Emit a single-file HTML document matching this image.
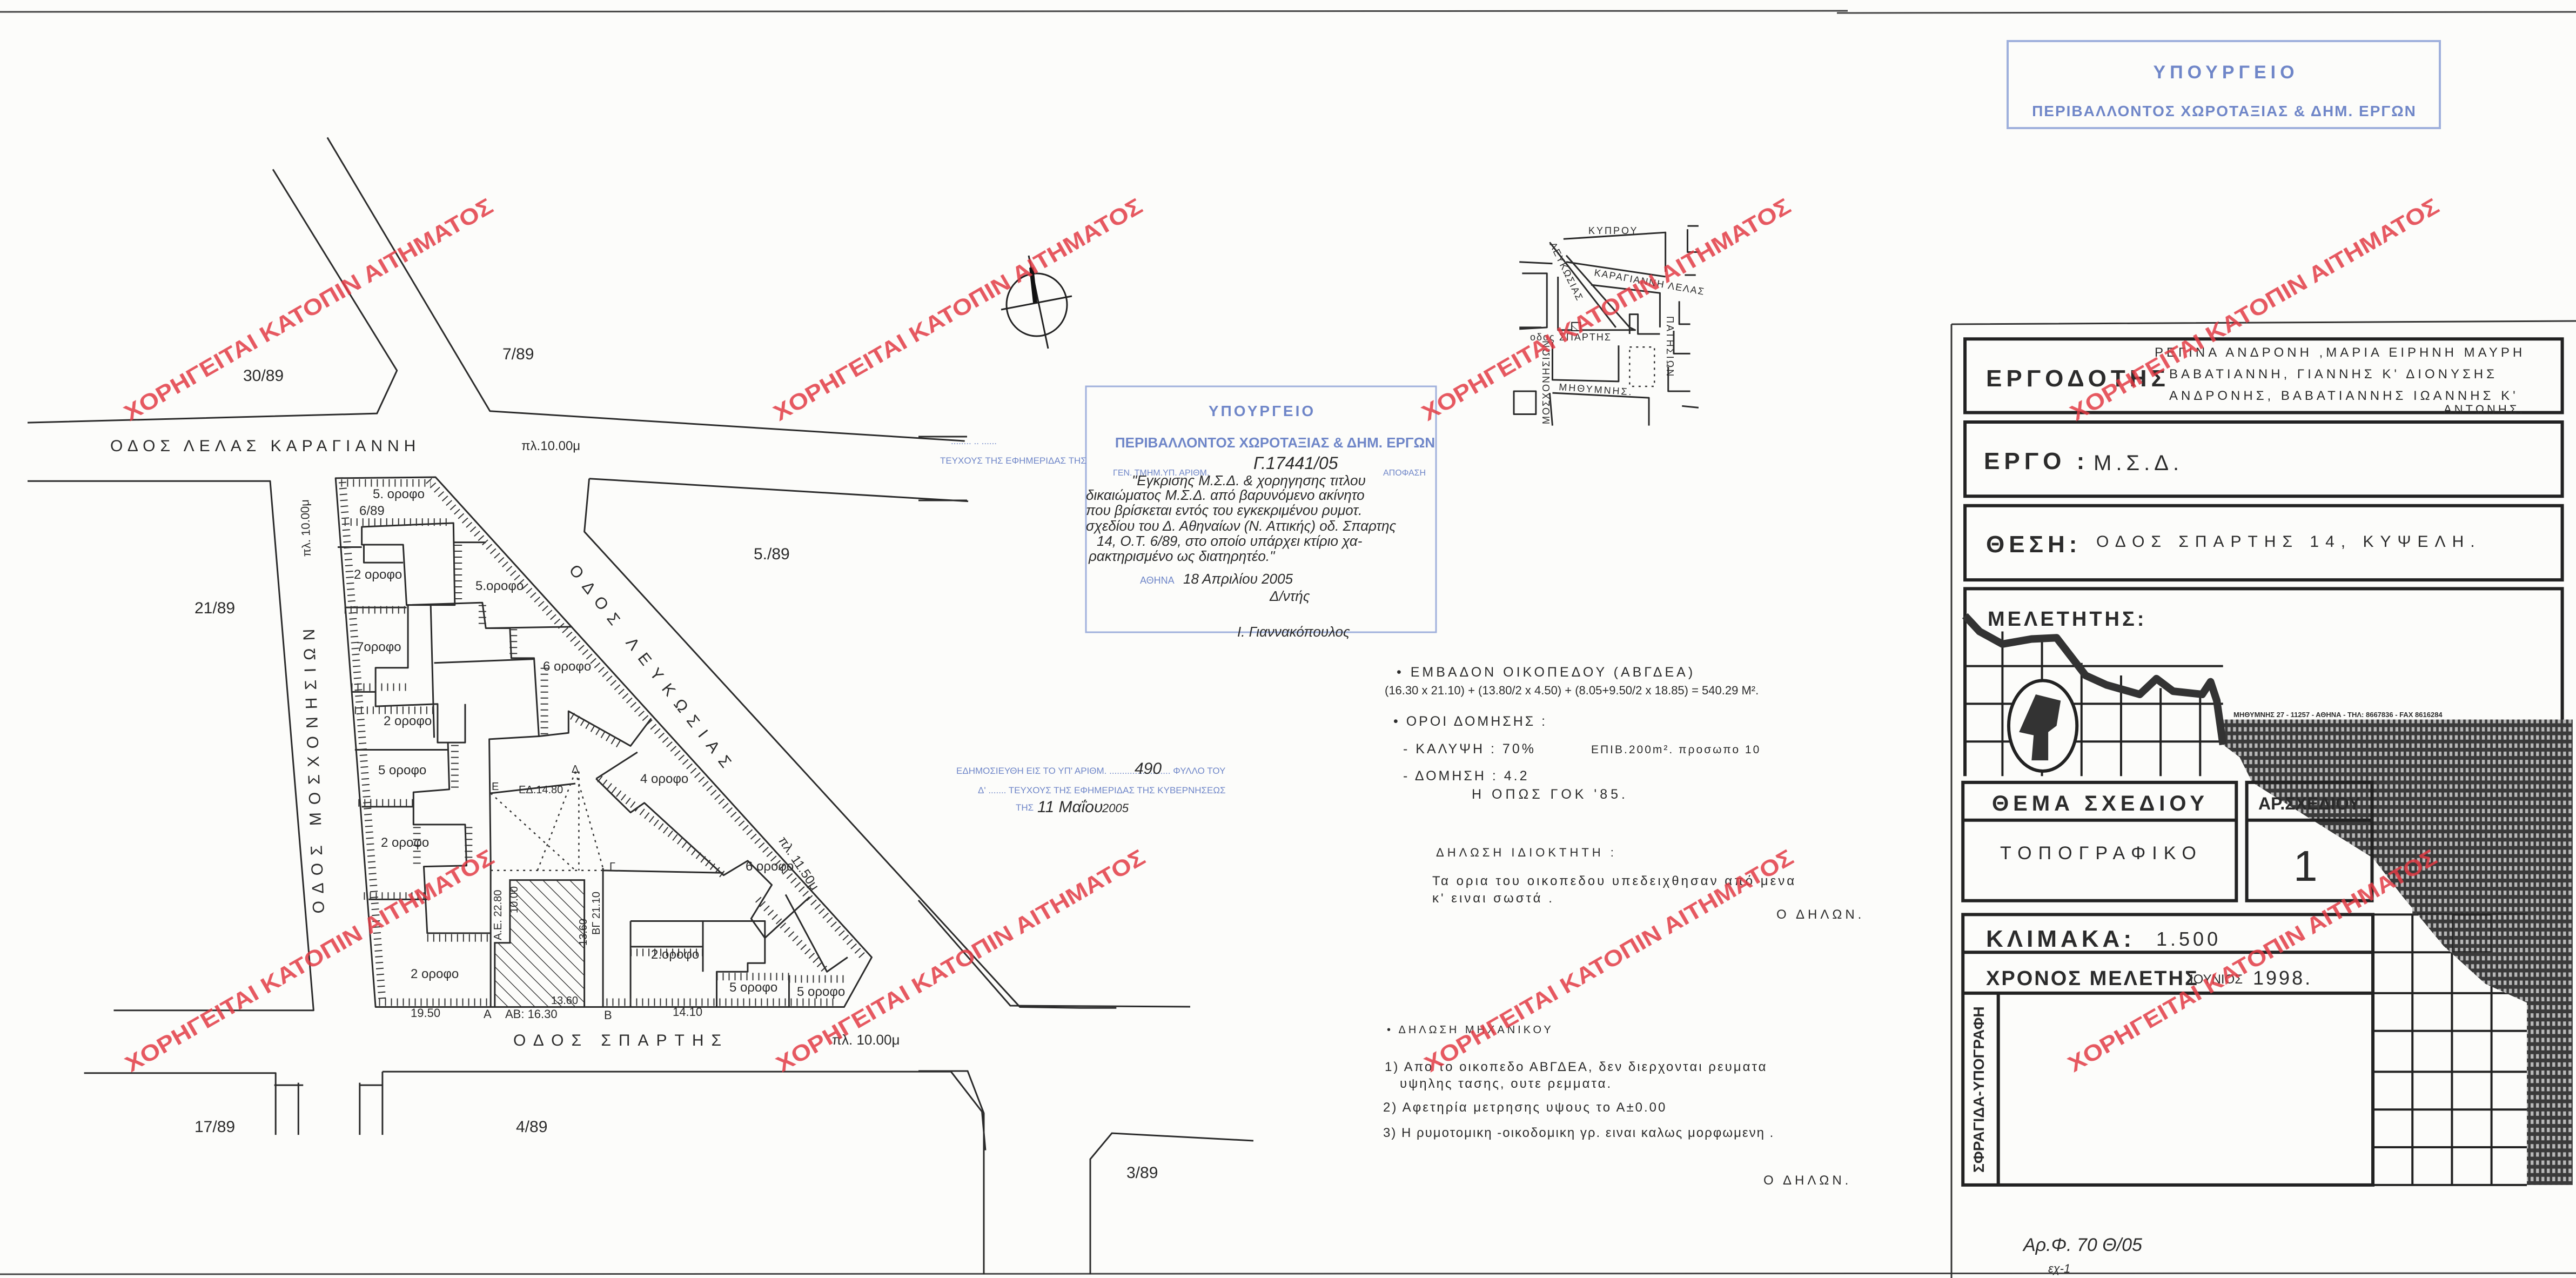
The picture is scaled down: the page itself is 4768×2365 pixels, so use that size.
<!DOCTYPE html>
<html><head><meta charset="utf-8"><style>
html,body{margin:0;padding:0;background:#fcfcfa;}
svg{display:block;}
text{font-family:"Liberation Sans","Noto Sans CJK SC",sans-serif;}
.p{fill:#2b2b2b;}
.ln{fill:none;stroke:#2b2b2b;stroke-width:3;vector-effect:non-scaling-stroke;stroke-linejoin:round;}
.th{fill:none;stroke:#333;stroke-width:14;stroke-dasharray:2 9;vector-effect:non-scaling-stroke;}
.dot{fill:none;stroke:#333;stroke-width:2.5;stroke-dasharray:4 8;vector-effect:non-scaling-stroke;}
.tb{fill:none;stroke:#222;stroke-width:6;vector-effect:non-scaling-stroke;}
.tg{fill:none;stroke:#222;stroke-width:4;vector-effect:non-scaling-stroke;}
.wm{fill:#e23a44;font-weight:bold;font-size:42px;opacity:0.85;}
.bl{fill:#6f86c8;}
</style></head><body>
<svg width="4768" height="2365" viewBox="0 0 4768 2365" xmlns="http://www.w3.org/2000/svg">
<defs>
<pattern id="diag" patternUnits="userSpaceOnUse" width="16" height="16" patternTransform="rotate(-35)">
<rect width="16" height="16" fill="#fcfcfa"/><line x1="0" y1="0" x2="0" y2="16" stroke="#333" stroke-width="2.5"/></pattern>
<pattern id="mesh" patternUnits="userSpaceOnUse" width="13" height="13">
<rect width="13" height="13" fill="#3a3a3a"/><rect x="3" y="3" width="7" height="7" fill="#b8b8b8"/></pattern>
</defs>
<rect width="4768" height="2365" fill="#fcfcfa"/>
<!-- frame lines -->
<path d="M0,22 L3420,20 M3400,24 L4768,22" stroke="#444" stroke-width="3" fill="none"/>
<path d="M0,2358 L4768,2356" stroke="#444" stroke-width="3" fill="none"/>

<!-- PLOT (zoom1 coords) -->
<g transform="matrix(1.2755 0 0 0.8929 0 700)">
<path class="ln" d="M487,207 L632,205 L1265,1200 L1225,1303 L545,1303 Z"/>
<path class="ln" d="M40,213 L392,213 L455,1310 L165,1310"/>
<path class="ln" d="M40,92 L547,73 L576,-16 L396,-433 M475,-499 L711,68 L1400,130"/>
<path class="ln" d="M855,208 L1405,255 M855,208 L848,318 L1480,1303 L1568,1305 L1620,1305"/>
<path class="ln" d="M122,1440 L400,1440 L400,1568 M433,1460 L433,1568 M398,1465 L440,1465 M555,1437 L1380,1437 L1425,1520 L1430,1600 M522,1460 L522,1568 M522,1465 L555,1465 M555,1437 L555,1568"/>
<!-- internal -->
<path class="ln" d="M490,350 L525,350 M500,475 L590,475 M510,650 L545,650 M515,770 L650,770 M525,888 L600,888 M535,1080 L620,1080"/>
<path class="ln" d="M525,308 L658,300 L660,470 L590,470 L585,345 L525,345 Z M528,345 L528,382 L585,382"/>
<path class="ln" d="M590,470 L700,465 L705,518 L740,518 L742,580 L775,580 L782,742 L710,748 L712,1000"/>
<path class="ln" d="M592,470 L592,600 L545,600 L545,680 L635,675 L635,755 L675,755 L675,675 M625,470 L630,745 M630,590 L775,582"/>
<path class="ln" d="M650,755 L652,852 L600,858 L600,925 L675,925 L677,1010 L615,1012 L620,1150 L712,1150 M712,1000 L712,1303"/>
<path class="ln" d="M658,340 L705,340 M782,742 L825,735 L825,690 L915,762 L945,705 M865,830 L925,775 M865,830 L915,900 L935,880 L1050,1030 L1085,1000 L1120,1050 L1090,1120 L1110,1160 L1175,1075 M1140,1070 L1200,1230 L1230,1200 M705,518 L830,515"/>
<path class="ln" d="M875,1015 L875,1303 M875,1020 L1050,1025 M915,1125 L1020,1125 L1110,1125 L1110,1212 L1085,1212 L1085,1230 L1040,1230 L1040,1303 M915,1178 L1020,1178 M915,1125 L915,1303 M1020,1125 L1020,1230 M1145,1240 L1145,1303"/>
<path class="ln" d="M712,860 L835,840"/>
<path class="dot" d="M712,860 L835,1020 M835,815 L780,1020 M835,815 L875,1015 M840,815 L840,1020 M712,1020 L875,1020 M835,815 L840,840"/>
<polygon points="740,1040 848,1040 848,1303 718,1303 718,1170 740,1170" fill="url(#diag)" stroke="#2b2b2b" stroke-width="3" vector-effect="non-scaling-stroke"/>
<!-- hatch strips -->
<path class="th" d="M550,1293 L710,1293 M880,1293 L1215,1293 M497,215 L555,1295 M495,217 L625,217 M622,212 L1252,1198 M500,298 L655,298 M500,480 L590,480 M510,640 L590,640 M515,688 L630,688 M520,880 L600,880 M528,1073 L620,1073 M620,1160 L712,1160 M915,1190 L1020,1190 M1040,1240 L1145,1240 M1145,1245 L1225,1245 M665,345 L665,460 M790,600 L790,740 M830,700 L900,760 M870,830 L1050,1030 M1100,1080 L1200,1230 M700,470 L700,515 M745,520 L745,580 M660,760 L660,850 M605,930 L605,1010 M680,930 L680,1000"/>
</g>
<!-- plot labels -->
<g class="p" font-size="24">
<text x="690" y="922">5. οροφο</text>
<text x="665" y="953">6/89</text>
<text x="655" y="1071">2 οροφο</text>
<text x="880" y="1092">5.οροφο</text>
<text x="660" y="1205">7οροφο</text>
<text x="1005" y="1241">6 οροφο</text>
<text x="710" y="1342">2 οροφο</text>
<text x="700" y="1433">5 οροφο</text>
<text x="1185" y="1449">4 οροφο</text>
<text x="705" y="1567">2 οροφο</text>
<text x="1380" y="1611">6 οροφο</text>
<text x="760" y="1810">2 οροφο</text>
<text x="1205" y="1774">2.οροφο</text>
<text x="1350" y="1835">5 οροφο</text>
<text x="1475" y="1843">5 οροφο</text>
<text x="960" y="1468" font-size="20">ΕΔ.14.80</text>
<text x="910" y="1462" font-size="20">Ε</text>
<text x="1058" y="1430" font-size="20">Δ</text>
<text x="1128" y="1610" font-size="20">Γ</text>
<text x="1020" y="1858" font-size="20">13.60</text>
<text transform="translate(928,1740) rotate(-90)" font-size="20">Α.Ε. 22.80</text>
<text transform="translate(1110,1730) rotate(-90)" font-size="20">ΒΓ 21.10</text>
<text transform="translate(1086,1750) rotate(-90)" font-size="20">13.60</text>
<text transform="translate(958,1690) rotate(-90)" font-size="20">10.00</text>
<text x="760" y="1882" font-size="22">19.50</text>
<text x="895" y="1884" font-size="22">Α</text>
<text x="935" y="1884" font-size="22">ΑΒ: 16.30</text>
<text x="1118" y="1886" font-size="22">Β</text>
<text x="1245" y="1880" font-size="22">14.10</text>
</g>
<!-- street labels -->
<g class="p" font-size="30">
<text x="204" y="835" letter-spacing="9">ΟΔΟΣ  ΛΕΛΑΣ  ΚΑΡΑΓΙΑΝΝΗ</text>
<text x="965" y="833" font-size="24">πλ.10.00μ</text>
<text x="950" y="1935" letter-spacing="14">ΟΔΟΣ    ΣΠΑΡΤΗΣ</text>
<text x="1540" y="1933" font-size="26">πλ. 10.00μ</text>
<text transform="translate(1052,1055) rotate(52)" letter-spacing="16">ΟΔΟΣ   ΛΕΥΚΩΣΙΑΣ</text>
<text transform="translate(1440,1555) rotate(56)" font-size="24">πλ. 11.50μ</text>
<text transform="translate(600,1690) rotate(-92)" letter-spacing="14">ΟΔΟΣ   ΜΟΣΧΟΝΗΣΙΩΝ</text>
<text transform="translate(575,1030) rotate(-92)" font-size="22">πλ. 10.00μ</text>
<text x="360" y="1135">21/89</text>
<text x="1395" y="1035">5./89</text>
<text x="360" y="2095">17/89</text>
<text x="955" y="2095">4/89</text>
<text x="450" y="705">30/89</text>
<text x="930" y="665">7/89</text>
<text x="2085" y="2180">3/89</text>
</g>

<!-- north arrow -->
<ellipse cx="1919" cy="564" rx="56" ry="58" fill="none" stroke="#222" stroke-width="3"/>
<path d="M1904,473 L1940,645 M1853,573 L1984,548" stroke="#222" stroke-width="3"/>
<path d="M1909,495 L1916,560" stroke="#111" stroke-width="8"/>

<!-- location map (zoom4 coords) -->
<g transform="matrix(1.0204 0 0 0.6059 1700 0)">
<path class="ln" d="M1170,730 L1355,710 L1355,830 M1175,800 L1355,845 M1145,740 L1265,1000 M1220,870 L1345,895 L1345,1000 M1090,800 L1150,805 M1095,835 L1140,835 L1140,1000 L1090,1005 M1160,845 L1160,1008 L1300,1008 L1290,1000 L1175,780 M1290,1020 L1290,960 L1305,960 L1305,1020 L1345,1020 M1150,1045 L1150,1160 L1270,1165 L1270,1055 M1145,1200 L1150,1300 M1150,1200 L1325,1215 L1325,1300 M1080,1195 L1120,1195 L1120,1265 L1080,1265 Z M1395,690 L1415,690 M1395,700 L1395,770 L1415,770 M1390,840 L1410,840 M1380,920 L1380,990 L1400,990 M1370,1010 L1370,1080 L1400,1080 M1360,1120 L1360,1195 L1400,1195 M1385,1240 L1415,1245 M1090,1000 L1130,1000"/>
<path class="dot" d="M1290,1060 L1335,1060 L1335,1180 L1290,1180 Z"/>
<rect x="1185" y="985" width="16" height="25" fill="url(#diag)" stroke="#222" stroke-width="2" vector-effect="non-scaling-stroke"/>
</g>
<g class="p" font-size="18">
<text x="2940" y="433" letter-spacing="3">ΚΥΠΡΟΥ</text>
<text transform="translate(2950,510) rotate(10)" letter-spacing="2">ΚΑΡΑΓΙΑΝΝΗ ΛΕΛΑΣ</text>
<text transform="translate(2868,452) rotate(64)" letter-spacing="2">ΛΕΥΚΩΣΙΑΣ</text>
<text x="2832" y="630" letter-spacing="2">οδος ΣΠΑΡΤΗΣ</text>
<text transform="translate(2885,722) rotate(4)" letter-spacing="3">ΜΗΘΥΜΝΗΣ.</text>
<text transform="translate(2868,785) rotate(-90)" letter-spacing="2">ΜΟΣΧΟΝΗΣΙΩΝ</text>
<text transform="translate(3085,585) rotate(90)" letter-spacing="3">ΠΑΤΗΣΙΩΝ</text>
</g>

<!-- central stamp -->
<rect x="2010" y="715" width="648" height="455" fill="none" stroke="#9fb0dc" stroke-width="3"/>
<g class="bl" font-weight="bold">
<text x="2336" y="770" text-anchor="middle" font-size="28" letter-spacing="4">ΥΠΟΥΡΓΕΙΟ</text>
<text x="2360" y="828" text-anchor="middle" font-size="26">ΠΕΡΙΒΑΛΛΟΝΤΟΣ ΧΩΡΟΤΑΞΙΑΣ &amp; ΔΗΜ. ΕΡΓΩΝ</text>
<text x="2060" y="880" font-size="16" font-weight="normal">ΓΕΝ. ΤΜΗΜ.ΥΠ. ΑΡΙΘΜ.</text>
<text x="2560" y="880" font-size="16" font-weight="normal">ΑΠΟΦΑΣΗ</text>
<text x="2110" y="1080" font-size="18" font-weight="normal">ΑΘΗΝΑ</text>
</g>
<g class="p" font-size="26" font-style="italic">
<text x="2320" y="868" font-size="32">Γ.17441/05</text>
<text x="2095" y="898">"Εγκρισης Μ.Σ.Δ. &amp; χορηγησης τιτλου</text>
<text x="2010" y="925">δικαιώματος Μ.Σ.Δ. από βαρυνόμενο ακίνητο</text>
<text x="2010" y="953">που βρίσκεται εντός του εγκεκριμένου ρυμοτ.</text>
<text x="2010" y="982">σχεδίου του Δ. Αθηναίων (Ν. Αττικής) οδ. Σπαρτης</text>
<text x="2030" y="1010">14, Ο.Τ. 6/89, στο οποίο υπάρχει κτίριο χα-</text>
<text x="2015" y="1038">ρακτηρισμένο ως διατηρητέο."</text>
<text x="2190" y="1080">18  Απριλίου        2005</text>
<text x="2350" y="1112">Δ/ντής</text>
<text x="2290" y="1178">Ι. Γιαννακόπουλος</text>
</g>
<!-- lower blue stamp -->
<g class="bl" font-size="17">
<text x="1770" y="1432">ΕΔΗΜΟΣΙΕΥΘΗ ΕΙΣ ΤΟ ΥΠ' ΑΡΙΘΜ. ........................ ΦΥΛΛΟ ΤΟΥ</text>
<text x="1810" y="1468">Δ' ....... ΤΕΥΧΟΥΣ ΤΗΣ ΕΦΗΜΕΡΙΔΑΣ ΤΗΣ ΚΥΒΕΡΝΗΣΕΩΣ</text>
<text x="1880" y="1500">ΤΗΣ</text>
<text x="1760" y="822">........  ..  ......</text>
<text x="1740" y="858">ΤΕΥΧΟΥΣ ΤΗΣ ΕΦΗΜΕΡΙΔΑΣ ΤΗΣ</text>
</g>
<g class="p" font-size="30" font-style="italic">
<text x="2100" y="1432">490</text>
<text x="1920" y="1503">11 Μαΐου</text>
<text x="2040" y="1503" font-size="22">2005</text>
</g>

<!-- notes -->
<g class="p" font-size="25">
<text x="2585" y="1252" letter-spacing="5">• ΕΜΒΑΔΟΝ  ΟΙΚΟΠΕΔΟΥ (ΑΒΓΔΕΑ)</text>
<text x="2563" y="1285" font-size="22">(16.30 x 21.10) + (13.80/2 x 4.50) + (8.05+9.50/2 x 18.85) = 540.29 Μ².</text>
<text x="2579" y="1343" letter-spacing="4">• ΟΡΟΙ ΔΟΜΗΣΗΣ :</text>
<text x="2597" y="1394" letter-spacing="4">- ΚΑΛΥΨΗ :  70%</text>
<text x="2945" y="1394" font-size="21" letter-spacing="3">ΕΠΙΒ.200m². προσωπο 10</text>
<text x="2597" y="1444" letter-spacing="4">- ΔΟΜΗΣΗ :  4.2</text>
<text x="2724" y="1478" letter-spacing="6">Η  ΟΠΩΣ  ΓΟΚ '85.</text>
<text x="2658" y="1585" font-size="22" letter-spacing="6">ΔΗΛΩΣΗ   ΙΔΙΟΚΤΗΤΗ :</text>
<text x="2651" y="1638" font-size="24" letter-spacing="4">Τα ορια του οικοπεδου υπεδειχθησαν από μενα</text>
<text x="2651" y="1670" font-size="24" letter-spacing="4">κ' ειναι σωστά .</text>
<text x="3288" y="1700" font-size="24" letter-spacing="6">Ο ΔΗΛΩΝ.</text>
<text x="2567" y="1912" font-size="20" letter-spacing="5">• ΔΗΛΩΣΗ  ΜΗΧΑΝΙΚΟΥ</text>
<text x="2563" y="1982" font-size="24" letter-spacing="3">1) Απο το οικοπεδο ΑΒΓΔΕΑ, δεν διερχονται ρευματα</text>
<text x="2591" y="2013" font-size="24" letter-spacing="3">υψηλης τασης, ουτε ρεμματα.</text>
<text x="2560" y="2057" font-size="24" letter-spacing="3">2) Αφετηρία  μετρησης  υψους  το  Α±0.00</text>
<text x="2560" y="2104" font-size="24" letter-spacing="2">3) Η ρυμοτομικη -οικοδομικη γρ. ειναι καλως μορφωμενη .</text>
<text x="3264" y="2192" font-size="24" letter-spacing="6">Ο ΔΗΛΩΝ.</text>
</g>
<!-- lines in lower middle -->
<path d="M1700,1666 L1870,1861 L2203,1863 M1700,1982 L1791,1982 L1821,2060 L1821,2358 M2018,2358 L2018,2145 L2058,2097 L2320,2111" fill="none" stroke="#2b2b2b" stroke-width="3"/>
<path d="M1700,808 L1790,808 M1700,926 L1790,926" stroke="#2b2b2b" stroke-width="3"/>

<!-- top-right stamp -->
<rect x="3716" y="76" width="800" height="161" fill="none" stroke="#9fb0dc" stroke-width="4"/>
<text x="4120" y="145" text-anchor="middle" class="bl" font-size="34" font-weight="bold" letter-spacing="8">ΥΠΟΥΡΓΕΙΟ</text>
<text x="4117" y="215" text-anchor="middle" class="bl" font-size="28" font-weight="bold" letter-spacing="2">ΠΕΡΙΒΑΛΛΟΝΤΟΣ ΧΩΡΟΤΑΞΙΑΣ &amp; ΔΗΜ. ΕΡΓΩΝ</text>

<!-- TITLE BLOCK (zoom2 coords) -->
<path d="M3612,600 L4768,594 M3612,600 L3612,2365" stroke="#333" stroke-width="3" fill="none"/>
<g transform="matrix(0.7704 0 0 1.164 3560 540)">
<polygon points="720,680 720,720 760,740 790,780 1080,900 1150,960 1250,1040 1350,1100 1450,1130 1450,1420 1560,1420 1560,680" fill="url(#mesh)"/>
<path class="tg" d="M1080,990 L1450,990 M1080,1050 L1450,1050 M1080,1115 L1450,1115 M1080,1175 L1450,1175 M1080,1240 L1450,1240 M1080,1300 L1450,1300 M1080,1360 L1450,1360 M1175,990 L1175,1420 M1270,990 L1270,1420 M1365,990 L1365,1420 M1080,1420 L1450,1420"/>
<path d="M790,780 L1080,900 L1150,960 L1250,1040 L1350,1100 L1450,1130 L1450,990 L1365,990 L1365,1050 L1270,1050 L1270,990 L1175,990 L1175,930 L1080,900" fill="url(#mesh)"/>
<rect x="100" y="75" width="1435" height="117" class="tb" fill="#fcfcfa"/>
<rect x="100" y="207" width="1435" height="118" class="tb" fill="#fcfcfa"/>
<rect x="100" y="340" width="1435" height="118" class="tb" fill="#fcfcfa"/>
<path class="tb" d="M100,770 L100,472 L1535,472 L1535,680"/>
<path class="tg" d="M100,595 L720,595 M100,655 L720,655 M100,715 L720,715 M190,540 L190,770 M285,550 L285,770 M380,590 L380,770 M475,610 L475,770 M570,630 L570,770 M665,635 L665,770"/>
<path d="M100,515 L135,540 L190,560 L260,552 L320,550 L390,610 L440,625 L520,640 L560,615 L600,635 L670,640 L690,620 L705,650 L720,720" fill="none" stroke="#333" stroke-width="14" vector-effect="non-scaling-stroke" stroke-linejoin="round"/>
<ellipse cx="287" cy="690" rx="82" ry="72" fill="#fcfcfa" stroke="#222" stroke-width="6" vector-effect="non-scaling-stroke"/>
<path d="M230,700 L270,640 L330,650 L320,690 L300,700 L300,745 L260,745 L265,705 Z" fill="#333"/>
<rect x="95" y="780" width="657" height="188" class="tb" fill="#fcfcfa"/>
<path class="tb" d="M95,840 L752,840"/>
<rect x="777" y="780" width="301" height="188" class="tb" fill="#fcfcfa"/>
<path class="tb" d="M777,840 L1078,840"/>
<rect x="95" y="990" width="985" height="430" class="tb" fill="#fcfcfa"/>
<path class="tb" d="M95,1050 L1080,1050 M95,1115 L1080,1115 M180,1115 L180,1420"/>
</g>
<g class="p">
<text x="3676" y="715" font-size="44" font-weight="bold" letter-spacing="8">ΕΡΓΟΔΟΤΗΣ</text>
<text x="3988" y="660" font-size="24" letter-spacing="6">ΡΕΓΙΝΑ  ΑΝΔΡΟΝΗ ,ΜΑΡΙΑ ΕΙΡΗΝΗ ΜΑΥΡΗ</text>
<text x="4015" y="700" font-size="24" letter-spacing="6">ΒΑΒΑΤΙΑΝΝΗ, ΓΙΑΝΝΗΣ Κ' ΔΙΟΝΥΣΗΣ</text>
<text x="4015" y="740" font-size="24" letter-spacing="6">ΑΝΔΡΟΝΗΣ, ΒΑΒΑΤΙΑΝΝΗΣ ΙΩΑΝΝΗΣ Κ'</text>
<text x="4523" y="765" font-size="22" letter-spacing="5">ΑΝΤΩΝΗΣ.</text>
<text x="3672" y="868" font-size="44" font-weight="bold" letter-spacing="8">ΕΡΓΟ :</text>
<text x="3875" y="870" font-size="40" letter-spacing="8">Μ.Σ.Δ.</text>
<text x="3676" y="1022" font-size="44" font-weight="bold" letter-spacing="8">ΘΕΣΗ:</text>
<text x="3880" y="1012" font-size="30" letter-spacing="12">ΟΔΟΣ  ΣΠΑΡΤΗΣ 14,  ΚΥΨΕΛΗ.</text>
<text x="3679" y="1158" font-size="38" font-weight="bold" letter-spacing="5">ΜΕΛΕΤΗΤΗΣ:</text>
<text x="4134" y="1327" font-size="13" font-weight="bold">ΜΗΘΥΜΝΗΣ 27 - 11257 - ΑΘΗΝΑ - ΤΗΛ: 8667836 - FAX 8616284</text>
<text x="3687" y="1500" font-size="40" font-weight="bold" letter-spacing="8">ΘΕΜΑ ΣΧΕΔΙΟΥ</text>
<text x="4180" y="1498" font-size="32" font-weight="bold">ΑΡ.ΣΧΕΔΙΟΥ</text>
<text x="3702" y="1590" font-size="34" letter-spacing="12">ΤΟΠΟΓΡΑΦΙΚΟ</text>
<text x="4245" y="1630" font-size="80">1</text>
<text x="3676" y="1752" font-size="44" font-weight="bold" letter-spacing="7">ΚΛΙΜΑΚΑ:</text>
<text x="3991" y="1750" font-size="36" letter-spacing="6">1.500</text>
<text x="3676" y="1823" font-size="38" font-weight="bold" letter-spacing="3">ΧΡΟΝΟΣ ΜΕΛΕΤΗΣ</text>
<text x="4053" y="1820" font-size="24">ΙΟΥΝΙΟΣ</text>
<text x="4170" y="1822" font-size="36" letter-spacing="4">1998.</text>
<text transform="translate(3672,2170) rotate(-90)" font-size="28" font-weight="bold">ΣΦΡΑΓΙΔΑ-ΥΠΟΓΡΑΦΗ</text>
<text x="3745" y="2315" font-size="34" font-style="italic">Αρ.Φ. 70 Θ/05</text>
<text x="3791" y="2355" font-size="22" font-style="italic">εχ-1</text>
</g>

<!-- watermarks -->
<g class="wm">
<text transform="translate(578,585) rotate(-30)" text-anchor="middle" textLength="780" lengthAdjust="spacingAndGlyphs">ΧΟΡΗΓΕΙΤΑΙ ΚΑΤΟΠΙΝ ΑΙΤΗΜΑΤΟΣ</text>
<text transform="translate(1780,585) rotate(-30)" text-anchor="middle" textLength="780" lengthAdjust="spacingAndGlyphs">ΧΟΡΗΓΕΙΤΑΙ ΚΑΤΟΠΙΝ ΑΙΤΗΜΑΤΟΣ</text>
<text transform="translate(2980,585) rotate(-30)" text-anchor="middle" textLength="780" lengthAdjust="spacingAndGlyphs">ΧΟΡΗΓΕΙΤΑΙ ΚΑΤΟΠΙΝ ΑΙΤΗΜΑΤΟΣ</text>
<text transform="translate(4180,585) rotate(-30)" text-anchor="middle" textLength="780" lengthAdjust="spacingAndGlyphs">ΧΟΡΗΓΕΙΤΑΙ ΚΑΤΟΠΙΝ ΑΙΤΗΜΑΤΟΣ</text>
<text transform="translate(580,1790) rotate(-30)" text-anchor="middle" textLength="780" lengthAdjust="spacingAndGlyphs">ΧΟΡΗΓΕΙΤΑΙ ΚΑΤΟΠΙΝ ΑΙΤΗΜΑΤΟΣ</text>
<text transform="translate(1785,1790) rotate(-30)" text-anchor="middle" textLength="780" lengthAdjust="spacingAndGlyphs">ΧΟΡΗΓΕΙΤΑΙ ΚΑΤΟΠΙΝ ΑΙΤΗΜΑΤΟΣ</text>
<text transform="translate(2985,1790) rotate(-30)" text-anchor="middle" textLength="780" lengthAdjust="spacingAndGlyphs">ΧΟΡΗΓΕΙΤΑΙ ΚΑΤΟΠΙΝ ΑΙΤΗΜΑΤΟΣ</text>
<text transform="translate(4176,1790) rotate(-30)" text-anchor="middle" textLength="780" lengthAdjust="spacingAndGlyphs">ΧΟΡΗΓΕΙΤΑΙ ΚΑΤΟΠΙΝ ΑΙΤΗΜΑΤΟΣ</text>
</g>
</svg>
</body></html>
